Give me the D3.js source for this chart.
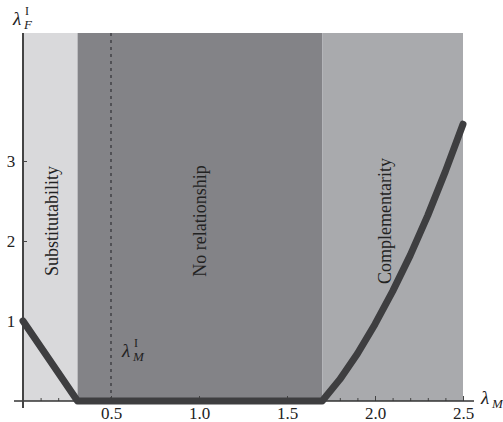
<!DOCTYPE html>
<html>
<head>
<meta charset="utf-8">
<script src="https://cdn.jsdelivr.net/npm/d3@7/dist/d3.min.js"></script>
<style>
  body { margin: 0; background: #fff; }
  svg text { font-family: "Liberation Serif", "DejaVu Serif", serif; fill: #222; }
</style>
</head>
<body>
<svg id="chart" width="503" height="422"></svg>
<script>
// regions along lambda_M
var regionNames = ["Substitutability", "No relationship", "Complementarity"];
var regionBounds = [0, 0.31, 1.70, 2.5];
var regionColors = ["#d9d9db", "#838387", "#a9aaad"];

// lambda_F^I curve
var curveX = [0, 0.31, 1.70, 1.8, 1.9, 2.0, 2.1, 2.2, 2.3, 2.4, 2.5];
var curveY = [1, 0, 0, 0.27, 0.59, 0.96, 1.37, 1.82, 2.32, 2.87, 3.46];

var xMajor = [0.5, 1.0, 1.5, 2.0, 2.5];
var yMajor = [1, 2, 3];
var lambdaMI = 0.5;

var svg = d3.select("#chart");
var x = d3.scaleLinear().domain([0, 2.5]).range([23, 463]);
var y = d3.scaleLinear().domain([0, 4.6]).range([401, 33]);

// shaded regions
svg.selectAll("rect.region")
  .data(regionNames)
  .enter().append("rect")
  .attr("class", "region")
  .attr("x", function(d, i){ return x(regionBounds[i]); })
  .attr("width", function(d, i){ return x(regionBounds[i+1]) - x(regionBounds[i]); })
  .attr("y", y(4.6))
  .attr("height", y(0) - y(4.6))
  .attr("fill", function(d, i){ return regionColors[i]; });

// region labels
svg.selectAll("text.region-label")
  .data(regionNames)
  .enter().append("text")
  .attr("class", "region-label")
  .attr("transform", function(d, i){
    var cx = [52, 200, 385][i];
    return "translate(" + cx + ",221) rotate(-90)";
  })
  .attr("text-anchor", "middle")
  .attr("dominant-baseline", "central")
  .style("font-size", "18px")
  .text(function(d){ return d; });

// dashed line at lambda_M^I
svg.append("line")
  .attr("x1", x(lambdaMI)).attr("x2", x(lambdaMI))
  .attr("y1", y(4.6)).attr("y2", y(0))
  .attr("stroke", "#4c4c50")
  .attr("stroke-width", 1.8)
  .attr("stroke-dasharray", "3,4");

// axes
var xMinor = d3.range(1, 25).map(function(i){ return i / 10; })
  .filter(function(v){ return xMajor.indexOf(+v.toFixed(1)) < 0; });

var gxMinor = svg.append("g").attr("transform", "translate(0," + y(0) + ")")
  .call(d3.axisBottom(x).tickValues(xMinor).tickFormat("").tickSizeInner(-3).tickSizeOuter(0));
var gx = svg.append("g").attr("transform", "translate(0," + y(0) + ")")
  .call(d3.axisBottom(x).tickValues(xMajor).tickFormat(d3.format(".1f")).tickSizeInner(-5).tickSizeOuter(0).tickPadding(6));
var gy = svg.append("g").attr("transform", "translate(" + x(0) + ",0)")
  .call(d3.axisLeft(y).tickValues(yMajor).tickFormat(d3.format("d")).tickSizeInner(-4).tickSizeOuter(0).tickPadding(6));

[gxMinor, gx, gy].forEach(function(g){
  g.select(".domain").remove();
  g.selectAll(".tick line").attr("stroke", "#444").attr("stroke-width", 1);
  g.selectAll(".tick text").style("font-size", "17px").attr("fill", "#222")
    .style("font-family", "'Liberation Serif', serif");
});
gx.selectAll(".tick text").attr("dy", "0.71em");
gy.selectAll(".tick text").attr("dx", "-0.1em");

svg.append("line")
  .attr("x1", x(0) - 9).attr("x2", x(2.5) + 11)
  .attr("y1", y(0)).attr("y2", y(0))
  .attr("stroke", "#333").attr("stroke-width", 1.5);
svg.append("line")
  .attr("x1", x(0)).attr("x2", x(0))
  .attr("y1", y(4.6)).attr("y2", y(0) + 7)
  .attr("stroke", "#444").attr("stroke-width", 2);

// curve
var line = d3.line()
  .x(function(d){ return x(d[0]); })
  .y(function(d){ return y(d[1]); });
svg.append("path")
  .datum(d3.zip(curveX, curveY))
  .attr("d", line)
  .attr("fill", "none")
  .attr("stroke", "#3e3e40")
  .attr("stroke-width", 7)
  .attr("stroke-linejoin", "round")
  .attr("stroke-linecap", "round");

// lambda labels: separate text pieces so they stack like the original
function lambdaLabel(px, py, sub, sup) {
  svg.append("text").attr("x", px).attr("y", py)
    .style("font-size", "19px").style("font-style", "italic").text("λ");
  svg.append("text").attr("x", px + 11).attr("y", py + 4)
    .style("font-size", "13px").style("font-style", "italic").text(sub);
  if (sup) {
    svg.append("text").attr("x", px + 12).attr("y", py - 10)
      .style("font-size", "12px").text(sup);
  }
}
lambdaLabel(13, 25, "F", "I");
lambdaLabel(122, 357, "M", "I");
lambdaLabel(481, 404, "M", null);
</script>
</body>
</html>
